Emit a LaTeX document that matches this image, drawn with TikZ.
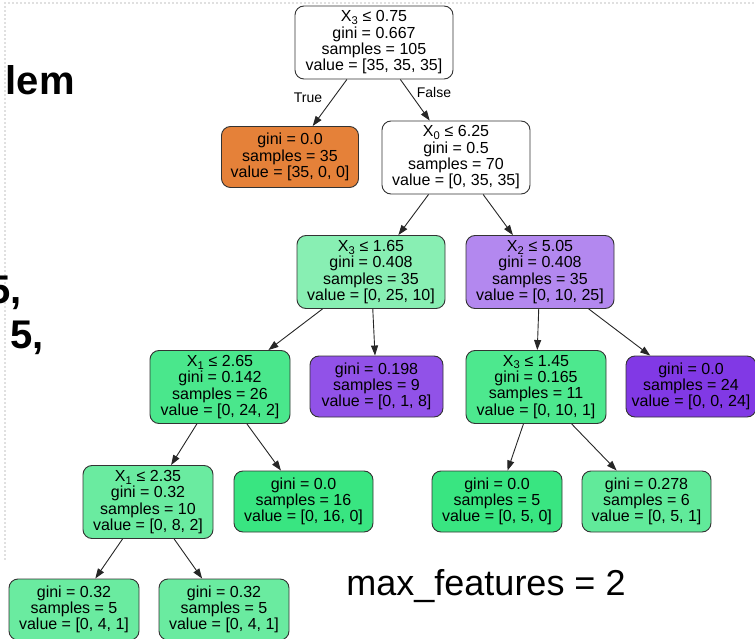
\documentclass[tikz,border=0pt]{standalone}
\usepackage{fontspec}
\setmainfont{Liberation Sans}
\usetikzlibrary{arrows.meta}

% node fills (class colours blended with white by purity)
\definecolor{cOrange}{HTML}{E58139}
\definecolor{cGreen}{HTML}{39E581}
\definecolor{cPurple}{HTML}{8139E5}
\definecolor{gA}{HTML}{88EFB3}
\definecolor{gB}{HTML}{4AE78C}
\definecolor{gC}{HTML}{4DE88E}
\definecolor{gD}{HTML}{6AEBA0}
\definecolor{gE}{HTML}{61EA9A}
\definecolor{pA}{HTML}{B388EF}
\definecolor{pB}{HTML}{9152E8}

\begin{document}
\begin{tikzpicture}[x=1pt,y=-1pt,
  tn/.style={draw=black!80, line width=0.9pt, rounded corners=9pt, inner sep=0pt,
    align=center, font=\fontsize{16}{16.3}\selectfont},
  dec/.style={tn, minimum height=73pt},
  leaf/.style={tn, minimum height=61pt},
  edge/.style={draw=black!85, line width=0.9pt, -{Triangle[length=10pt,width=7pt]}},
  elabel/.style={font=\fontsize{14}{14}\selectfont, inner sep=0pt},
  slide/.style={font=\fontsize{40}{40}\selectfont\bfseries, inner sep=0pt, anchor=base east},
]
\useasboundingbox (0,0) rectangle (755,639);

% faint slide frame
\draw[black!12, line width=2pt, dash pattern=on 2pt off 2pt] (5,560) -- (5,3) -- (755,3);

% cut-off slide text on the left
\node[slide] (s1) at (75,95) {lem};
\node[slide] (s2) at (22,303) {5,};
\node[slide] (s3) at (44,348) {5,};

% tree nodes
\node[dec, fill=white, minimum width=158pt] (n0) at (374,42.5)
  {X\textsubscript{3} ≤ 0.75\\gini = 0.667\\samples = 105\\value = [35, 35, 35]};
\node[leaf, fill=cOrange, minimum width=137pt] (n1) at (290,157)
  {gini = 0.0\\samples = 35\\value = [35, 0, 0]};
\node[dec, fill=white, minimum width=148pt] (n2) at (456,157.5)
  {X\textsubscript{0} ≤ 6.25\\gini = 0.5\\samples = 70\\value = [0, 35, 35]};
\node[dec, fill=gA, minimum width=148pt] (n3) at (371,272)
  {X\textsubscript{3} ≤ 1.65\\gini = 0.408\\samples = 35\\value = [0, 25, 10]};
\node[dec, fill=pA, minimum width=148pt] (n4) at (540,272)
  {X\textsubscript{2} ≤ 5.05\\gini = 0.408\\samples = 35\\value = [0, 10, 25]};
\node[dec, fill=gB, minimum width=140pt] (n5) at (220,387)
  {X\textsubscript{1} ≤ 2.65\\gini = 0.142\\samples = 26\\value = [0, 24, 2]};
\node[leaf, fill=pB, minimum width=133pt] (n6) at (376.5,386.5)
  {gini = 0.198\\samples = 9\\value = [0, 1, 8]};
\node[dec, fill=gC, minimum width=140pt] (n7) at (536,387)
  {X\textsubscript{3} ≤ 1.45\\gini = 0.165\\samples = 11\\value = [0, 10, 1]};
\node[leaf, fill=cPurple, minimum width=130pt] (n8) at (691,386.5)
  {gini = 0.0\\samples = 24\\value = [0, 0, 24]};
\node[dec, fill=gD, minimum width=130pt] (n9) at (148,502)
  {X\textsubscript{1} ≤ 2.35\\gini = 0.32\\samples = 10\\value = [0, 8, 2]};
\node[leaf, fill=cGreen, minimum width=139pt] (n10) at (303.5,501.5)
  {gini = 0.0\\samples = 16\\value = [0, 16, 0]};
\node[leaf, fill=cGreen, minimum width=130pt] (n11) at (497,501.5)
  {gini = 0.0\\samples = 5\\value = [0, 5, 0]};
\node[leaf, fill=gE, minimum width=129pt] (n12) at (646.5,501.5)
  {gini = 0.278\\samples = 6\\value = [0, 5, 1]};
\node[leaf, fill=gD, minimum width=130pt] (n13) at (74,609.5)
  {gini = 0.32\\samples = 5\\value = [0, 4, 1]};
\node[leaf, fill=gD, minimum width=130pt] (n14) at (224,609.5)
  {gini = 0.32\\samples = 5\\value = [0, 4, 1]};

% connectors
\draw[edge] (n0) -- (n1);
\draw[edge] (n0) -- (n2);
\draw[edge] (n2) -- (n3);
\draw[edge] (n2) -- (n4);
\draw[edge] (n3) -- (n5);
\draw[edge] (n3) -- (n6);
\draw[edge] (n4) -- (n7);
\draw[edge] (n4) -- (n8);
\draw[edge] (n5) -- (n9);
\draw[edge] (n5) -- (n10);
\draw[edge] (n7) -- (n11);
\draw[edge] (n7) -- (n12);
\draw[edge] (n9) -- (n13);
\draw[edge] (n9) -- (n14);

% branch labels
\node[elabel] (lt) at (308,98) {True};
\node[elabel] (lf) at (434,92) {False};

% caption
\node[font=\fontsize{36}{36}\selectfont, inner sep=0pt] (cap) at (486,586) {max\_features = 2};
\end{tikzpicture}
\end{document}
